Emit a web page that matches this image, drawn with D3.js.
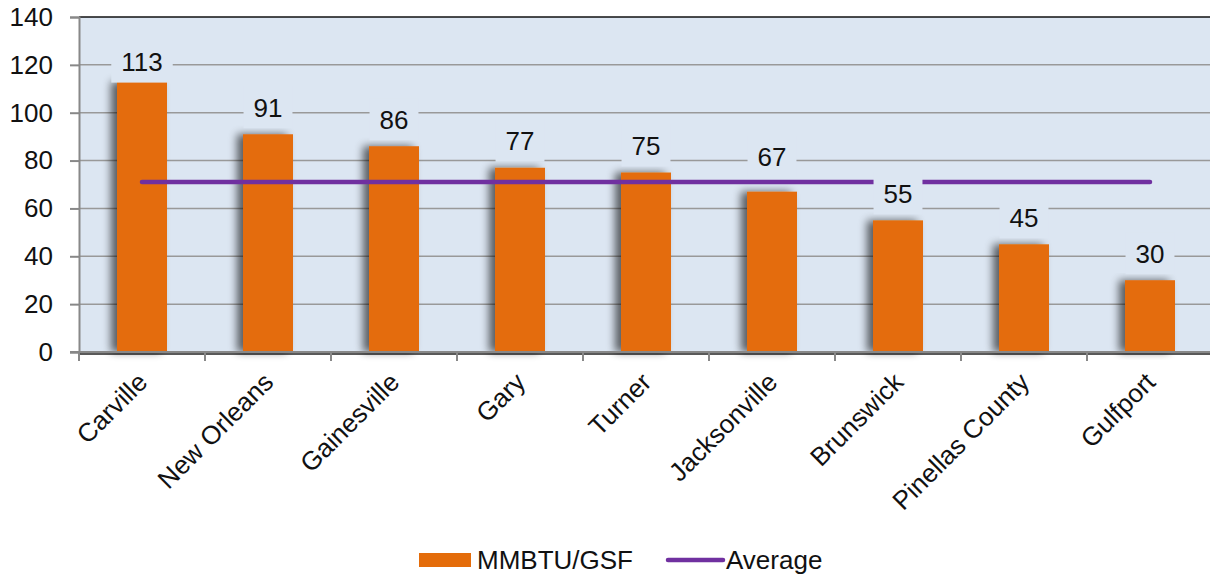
<!DOCTYPE html>
<html lang="en">
<head>
<meta charset="UTF-8" />
<title>MMBTU/GSF</title>
<script src="https://cdn.jsdelivr.net/npm/d3@7/dist/d3.min.js"></script>
<style>
  body { margin: 0; background: #fff; }
  text { font-family: "Liberation Sans", Arial, sans-serif; fill: #111; }
</style>
</head>
<body>
<script>
const sites = ['Carville', 'New Orleans', 'Gainesville', 'Gary', 'Turner', 'Jacksonville', 'Brunswick', 'Pinellas County', 'Gulfport'];
const mmbtu = [113, 91, 86, 77, 75, 67, 55, 45, 30];
const average = [71, 71, 71, 71, 71, 71, 71, 71, 71];
const yTicks = [0, 20, 40, 60, 80, 100, 120, 140];
const legendNames = ['MMBTU/GSF', 'Average'];

const W = 1210, H = 577;
const orange = '#e46c0a', purple = '#7030a0', plotBg = '#dce6f2';
const fs = 26;
// label lifted above bar top; a couple were nudged in the original
const labelGap = 27;
const labelNudge = { 'Carville': 7, 'Jacksonville': -8 };

const svg = d3.select('body').append('svg').attr('width', W).attr('height', H);

const defs = svg.append('defs');
const f = defs.append('filter').attr('id', 'shadow').attr('x', '-50%').attr('width', '170%');
f.append('feGaussianBlur').attr('in', 'SourceAlpha').attr('stdDeviation', 4);
f.append('feOffset').attr('dx', -6).attr('dy', 0);
f.append('feComponentTransfer').append('feFuncA').attr('type', 'linear').attr('slope', 0.6);
const fm = f.append('feMerge');
fm.append('feMergeNode');
fm.append('feMergeNode').attr('in', 'SourceGraphic');

const x = d3.scaleBand().domain(sites).range([79, 1213]);
const y = d3.scaleLinear().domain([0, 140]).range([352, 17]);
const y0 = y(0);
const cx = d => x(d) + x.bandwidth() / 2;

// plot background
svg.append('rect')
  .attr('x', 79).attr('y', y(140))
  .attr('width', W - 79).attr('height', y0 - y(140))
  .attr('fill', plotBg);

// grid lines
svg.append('g').selectAll('line').data(yTicks.filter(d => d > 0 && d < 140)).join('line')
  .attr('x1', 79).attr('x2', W)
  .attr('y1', d => y(d)).attr('y2', d => y(d))
  .attr('stroke', '#999').attr('stroke-width', 1.5);

// top border
svg.append('line').attr('x1', 79).attr('x2', W)
  .attr('y1', y(140)).attr('y2', y(140)).attr('stroke', '#111').attr('stroke-width', 1.5);

// y axis
const yAxis = svg.append('g').attr('transform', 'translate(79,0)')
  .call(d3.axisLeft(y).tickValues(yTicks).tickSize(9).tickPadding(17));
yAxis.select('.domain').attr('stroke', '#888').attr('stroke-width', 2);
yAxis.selectAll('.tick line').attr('stroke', '#888').attr('stroke-width', 2);
yAxis.selectAll('.tick text').attr('font-size', fs).attr('fill', '#111')
  .style('font-family', '"Liberation Sans", Arial, sans-serif');

// dark line just below the axis
svg.append('line').attr('x1', 79).attr('x2', W)
  .attr('y1', y0 + 2).attr('y2', y0 + 2).attr('stroke', '#222').attr('stroke-width', 1.5);

// bars
svg.append('g').selectAll('rect').data(sites).join('rect')
  .attr('x', d => cx(d) - 25)
  .attr('width', 50)
  .attr('y', (d, i) => y(mmbtu[i]))
  .attr('height', (d, i) => y0 - y(mmbtu[i]))
  .attr('fill', orange)
  .attr('filter', 'url(#shadow)');

// x axis
svg.append('line').attr('x1', 70).attr('x2', W)
  .attr('y1', y0).attr('y2', y0).attr('stroke', '#888').attr('stroke-width', 2);
svg.append('g').selectAll('line').data(d3.range(sites.length + 1)).join('line')
  .attr('x1', i => 79 + i * x.step()).attr('x2', i => 79 + i * x.step())
  .attr('y1', y0).attr('y2', y0 + 9)
  .attr('stroke', '#888').attr('stroke-width', 2);

// average line
const line = d3.line().x((d, i) => cx(sites[i])).y(d => y(d));
svg.append('path').datum(average).attr('d', line)
  .attr('fill', 'none').attr('stroke', purple).attr('stroke-width', 4.5).attr('stroke-linecap', 'round');

// value labels with plot-coloured boxes
const lab = svg.append('g').selectAll('g').data(sites).join('g')
  .attr('transform', (d, i) => `translate(${cx(d)},${y(mmbtu[i]) - labelGap + (labelNudge[d] || 0)})`);
const rects = lab.append('rect').attr('y', -21).attr('height', 42).attr('fill', plotBg);
const texts = lab.append('text')
  .attr('text-anchor', 'middle').attr('dy', '0.36em')
  .attr('font-size', fs)
  .text((d, i) => mmbtu[i]);
texts.each(function (d, i) {
  const w = this.getComputedTextLength() + 20;
  d3.select(rects.nodes()[i]).attr('x', -w / 2).attr('width', w);
});

// x labels
svg.append('g').selectAll('text').data(sites).join('text')
  .attr('transform', d => `translate(${cx(d) - 6},${y0 + 19}) rotate(-45)`)
  .attr('text-anchor', 'end').attr('dy', '0.7em')
  .attr('font-size', fs)
  .text(d => d);

// legend
const lg = svg.append('g').attr('transform', 'translate(419,560)');
lg.append('rect').attr('x', 0).attr('y', -7).attr('width', 52).attr('height', 14).attr('fill', orange);
lg.append('text').attr('x', 58).attr('dy', '0.36em').attr('font-size', fs).text(legendNames[0]);
lg.append('line').attr('x1', 249).attr('x2', 304).attr('y1', 0).attr('y2', 0)
  .attr('stroke', purple).attr('stroke-width', 4.5).attr('stroke-linecap', 'round');
lg.append('text').attr('x', 307).attr('dy', '0.36em').attr('font-size', fs).text(legendNames[1]);
</script>
</body>
</html>
